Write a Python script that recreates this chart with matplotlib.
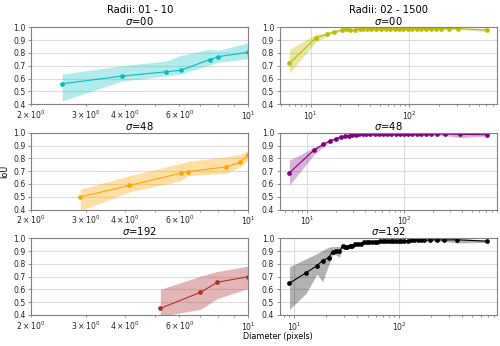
import matplotlib
matplotlib.use("Agg")
import matplotlib.pyplot as plt

# ---- Left column (Radii 01 - 10) ----
l0_x = [2.52, 3.93, 5.45, 6.05, 7.5, 8.0, 10.0]
l0_y = [0.559, 0.619, 0.653, 0.664, 0.747, 0.771, 0.805]
l0_lo = [0.425, 0.58, 0.62, 0.635, 0.705, 0.727, 0.755]
l0_hi = [0.635, 0.70, 0.737, 0.78, 0.83, 0.82, 0.88]

l1_x = [2.88, 4.14, 6.05, 6.41, 8.5, 9.4, 10.0]
l1_y = [0.499, 0.588, 0.684, 0.697, 0.734, 0.770, 0.830]
l1_lo = [0.39, 0.538, 0.624, 0.666, 0.682, 0.734, 0.79]
l1_hi = [0.559, 0.664, 0.76, 0.778, 0.812, 0.833, 0.86]

l2_x = [5.21, 7.01, 7.94, 10.0]
l2_y = [0.452, 0.577, 0.656, 0.70]
l2_lo = [0.39, 0.444, 0.528, 0.608]
l2_hi = [0.60, 0.705, 0.74, 0.783]

# ---- Right column (Radii 02 - 1500) ----
r0_x = [6.1, 11.3, 14.5, 17.3, 20.8, 23.0, 25.2, 27.8, 31.4, 33.9, 37.2, 41.1, 46.1,
        51.9, 57.4, 63.8, 70.7, 78.0, 86.8, 96.3, 106.6, 118, 131, 147, 165, 186,
        208, 249, 306, 610]
r0_y = [0.718, 0.919, 0.945, 0.966, 0.979, 0.987, 0.977, 0.982, 0.990, 0.988, 0.985,
        0.988, 0.988, 0.987, 0.988, 0.988, 0.988, 0.987, 0.988, 0.988, 0.989, 0.988,
        0.989, 0.990, 0.989, 0.990, 0.990, 0.990, 0.990, 0.978]
r0_lo = [0.640, 0.888, 0.930, 0.957, 0.970, 0.980, 0.970, 0.976, 0.984, 0.982, 0.980,
         0.982, 0.983, 0.982, 0.983, 0.983, 0.983, 0.982, 0.983, 0.983, 0.984, 0.983,
         0.984, 0.985, 0.984, 0.985, 0.985, 0.984, 0.983, 0.967]
r0_hi = [0.828, 0.945, 0.958, 0.975, 0.987, 0.993, 0.986, 0.989, 0.996, 0.994, 0.991,
         0.994, 0.994, 0.993, 0.994, 0.994, 0.994, 0.993, 0.994, 0.994, 0.995, 0.994,
         0.995, 0.996, 0.995, 0.996, 0.996, 0.996, 0.996, 0.990]

r1_x = [6.6, 11.7, 14.7, 17.2, 19.8, 22.2, 24.7, 27.2, 29.4, 31.9, 34.5, 37.4, 41,
        45, 50, 55, 61, 67, 74, 82, 90, 100, 110, 122, 135, 150, 168, 190, 220,
        265, 380, 720]
r1_y = [0.687, 0.862, 0.909, 0.937, 0.953, 0.969, 0.972, 0.978, 0.985, 0.982, 0.987,
        0.988, 0.988, 0.988, 0.988, 0.988, 0.989, 0.988, 0.989, 0.989, 0.989, 0.989,
        0.990, 0.989, 0.990, 0.990, 0.990, 0.990, 0.990, 0.990, 0.987, 0.985]
r1_lo = [0.590, 0.825, 0.890, 0.925, 0.945, 0.962, 0.965, 0.972, 0.979, 0.976, 0.981,
         0.982, 0.982, 0.982, 0.982, 0.982, 0.983, 0.982, 0.983, 0.983, 0.983, 0.983,
         0.984, 0.983, 0.984, 0.984, 0.984, 0.983, 0.982, 0.978, 0.962, 0.975]
r1_hi = [0.786, 0.883, 0.920, 0.947, 0.962, 0.976, 0.979, 0.984, 0.991, 0.988, 0.993,
         0.994, 0.994, 0.994, 0.994, 0.994, 0.995, 0.994, 0.995, 0.995, 0.995, 0.995,
         0.996, 0.995, 0.996, 0.996, 0.996, 0.996, 0.997, 0.997, 0.996, 0.993]

r2_x = [9.0, 13.0, 16.5, 18.6, 21.3, 23.2, 25.1, 27.0, 28.9, 30.4, 32.0, 33.7, 35.4,
        37.6, 40.5, 43.5, 46.2, 49.0, 52.0, 55.1, 58.4, 62.0, 65.8, 69.7, 74.0,
        78.5, 83.2, 88.3, 93.6, 99.3, 105.2, 111.7, 120.2, 129.4, 139.2, 149.9,
        161.3, 173.6, 198.3, 229.6, 269.9, 357, 690]
r2_y = [0.648, 0.731, 0.786, 0.825, 0.849, 0.896, 0.898, 0.898, 0.937, 0.935, 0.935,
        0.940, 0.940, 0.953, 0.956, 0.958, 0.969, 0.970, 0.970, 0.972, 0.972, 0.973,
        0.975, 0.975, 0.977, 0.978, 0.980, 0.980, 0.978, 0.980, 0.982, 0.980, 0.982,
        0.983, 0.984, 0.985, 0.985, 0.985, 0.987, 0.988, 0.987, 0.988, 0.977]
r2_lo = [0.444, 0.570, 0.720, 0.660, 0.790, 0.870, 0.870, 0.850, 0.925, 0.925, 0.925,
         0.930, 0.930, 0.944, 0.947, 0.950, 0.961, 0.962, 0.962, 0.965, 0.965, 0.966,
         0.968, 0.968, 0.970, 0.971, 0.973, 0.973, 0.971, 0.973, 0.975, 0.973, 0.975,
         0.976, 0.977, 0.978, 0.978, 0.977, 0.978, 0.978, 0.975, 0.963, 0.968]
r2_hi = [0.777, 0.840, 0.880, 0.905, 0.930, 0.935, 0.935, 0.935, 0.950, 0.946, 0.946,
         0.950, 0.950, 0.962, 0.965, 0.967, 0.977, 0.978, 0.978, 0.980, 0.980, 0.981,
         0.983, 0.983, 0.985, 0.986, 0.988, 0.988, 0.986, 0.988, 0.990, 0.988, 0.990,
         0.991, 0.992, 0.993, 0.993, 0.993, 0.995, 0.996, 0.996, 0.997, 0.987]

titles_left = ["Radii: 01 - 10\n$\\sigma$=00", "$\\sigma$=48", "$\\sigma$=192"]
titles_right = ["Radii: 02 - 1500\n$\\sigma$=00", "$\\sigma$=48", "$\\sigma$=192"]

left = [(l0_x, l0_y, l0_lo, l0_hi, "c"),
        (l1_x, l1_y, l1_lo, l1_hi, "orange"),
        (l2_x, l2_y, l2_lo, l2_hi, "#b03030")]
right = [(r0_x, r0_y, r0_lo, r0_hi, "#bcbc00"),
         (r1_x, r1_y, r1_lo, r1_hi, "purple"),
         (r2_x, r2_y, r2_lo, r2_hi, "black")]

fig, axes = plt.subplots(3, 2, figsize=(5.0, 3.46), dpi=100)
fig.subplots_adjust(left=0.062, right=0.994, bottom=0.0896, top=0.921,
                    wspace=0.143, hspace=0.374)

spine_c = "#808080"
for row in range(3):
    for col, data, titles in ((0, left, titles_left), (1, right, titles_right)):
        ax = axes[row, col]
        x, y, lo, hi, c = data[row]
        alpha = 0.3 if c in ("c", "purple", "black") else 0.35
        ax.fill_between(x, lo, hi, color=c, alpha=alpha, linewidth=0)
        ax.plot(x, y, color=c, marker="o", markersize=2.4, linewidth=0.8)
        ax.set_xscale("log")
        ax.set_ylim(0.4, 1.0)
        if col == 0:
            ax.set_xlim(2, 10)
        ax.set_yticks([0.4, 0.5, 0.6, 0.7, 0.8, 0.9, 1.0])
        ax.grid(True, which="major", color="#dcdcdc", linewidth=0.8)
        ax.set_axisbelow(True)
        ax.set_title(titles[row], fontsize=7.2, pad=2, linespacing=1.0)
        for s in ax.spines.values():
            s.set_color(spine_c)
            s.set_linewidth(0.8)
        ax.tick_params(axis="both", which="both", labelsize=5.6, colors=spine_c,
                       labelcolor="#262626", length=2.5, width=0.6, pad=1.5)
        ax.tick_params(axis="both", which="minor", length=1.5)

axes[1, 0].set_ylabel("IoU", fontsize=5.8, labelpad=3)
fig.text(0.556, 0.027, "Diameter (pixels)", ha="center", va="center", fontsize=5.8)

fig.savefig("out.png", dpi=100)
